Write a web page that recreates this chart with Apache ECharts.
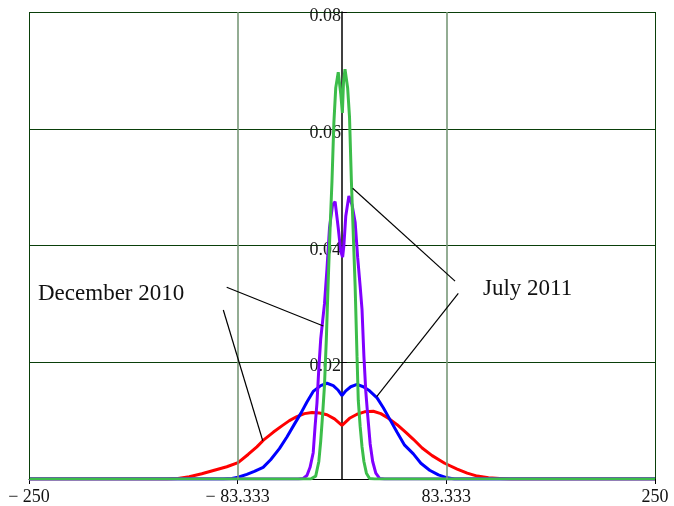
<!DOCTYPE html>
<html>
<head>
<meta charset="utf-8">
<script src="https://cdn.jsdelivr.net/npm/echarts@6/dist/echarts.min.js"></script>
<style>html,body{margin:0;padding:0;background:#fff}#c{width:674px;height:506px}</style>
</head>
<body>
<div id="c"></div>
<script>
// ---- data ----
const xTicks = [-250, -83.333, 83.333, 250];
const xTickLabels = ['\u2212 250', '\u2212 83.333', '83.333', '250'];
const yTicks = [0.02, 0.04, 0.06, 0.08];

const redData = [[-250,0],[-140,0],[-131,0.0001],[-122,0.0004],[-112,0.0009],[-102,0.0015],[-92,0.0021],[-83,0.0028],[-75,0.0042],[-68,0.0055],[-62,0.0068],[-55,0.0080],[-48,0.0091],[-42,0.0100],[-36,0.0107],[-30,0.0112],[-24,0.0114],[-18,0.0113],[-12,0.0110],[-6,0.0103],[0,0.0092],[6,0.0104],[12,0.0111],[18,0.0115],[25,0.0116],[31,0.0112],[37,0.0104],[44,0.0093],[51,0.0080],[57,0.0068],[64,0.0053],[72,0.0040],[82,0.0027],[92,0.0017],[100,0.0010],[108,0.0005],[117,0.0002],[126,0.0001],[135,0],[250,0]];

const blueData = [[-250,0],[-95,0],[-88,0.0001],[-83,0.0003],[-76,0.0008],[-70,0.0013],[-63,0.0020],[-57,0.0033],[-50,0.0052],[-44,0.0072],[-38,0.0094],[-33,0.0112],[-28,0.0132],[-23,0.0150],[-17,0.0160],[-12,0.0164],[-7,0.0160],[-3,0.0152],[0,0.0143],[3,0.0151],[7,0.0158],[12,0.0162],[17,0.0158],[22,0.0151],[28,0.0139],[33,0.0122],[38,0.0103],[44,0.0080],[50,0.0058],[57,0.0043],[63,0.0027],[70,0.0015],[77,0.0007],[84,0.0002],[90,0],[250,0]];

const purpleData = [[-250,0],[-35,0],[-31,0.0001],[-28,0.0006],[-25.5,0.002],[-23,0.0045],[-21.5,0.009],[-20,0.013],[-18.5,0.019],[-17,0.024],[-15.5,0.027],[-14,0.030],[-12,0.036],[-10,0.043],[-7.5,0.047],[-5.5,0.0475],[-3,0.043],[-1,0.039],[0.5,0.038],[1.5,0.040],[3,0.045],[5.5,0.0485],[8,0.047],[10.5,0.044],[12.5,0.038],[14.5,0.033],[16,0.029],[17.5,0.021],[19,0.015],[20.5,0.011],[22.5,0.006],[24.5,0.003],[27,0.001],[30,0.0001],[34,0],[250,0]];

const greenData = [[-250,0],[-25,0],[-21,0.0005],[-18.5,0.003],[-17,0.0065],[-15.5,0.011],[-14,0.016],[-12.5,0.024],[-11,0.034],[-9.5,0.043],[-8,0.051],[-6.5,0.061],[-5,0.067],[-3,0.0697],[-1,0.066],[0.3,0.0627],[1.2,0.068],[2.4,0.0702],[4.5,0.067],[6,0.062],[7.5,0.051],[9,0.042],[10.5,0.033],[12,0.021],[13,0.0135],[14.5,0.009],[16,0.0055],[17.5,0.003],[19.5,0.001],[22,0.0001],[26,0],[250,0]];

// annotation leader lines in data coordinates: [x1, y1, x2, y2]
const leaderLines = [
  [-92.1, 0.03284, -14.9, 0.02621],
  [-94.8, 0.02895, -63.3, 0.00656],
  [8.5, 0.0498, 90.3, 0.0339],
  [92.9, 0.0318, 27.7, 0.0141]
];
const annotationTexts = ['December 2010', 'July 2011'];

// ---- chart ----
const chart = echarts.init(document.getElementById('c'), null, {renderer: 'canvas'});
const serif = 'Liberation Serif';
const gridGreen = '#0a3f0a';
const gridLeft = 29, gridRight = 19;
const plotWidth = 674 - gridLeft - gridRight;

const vLines = xTicks.map((v, i) => ({
  xAxis: v,
  lineStyle: (i === 0 || i === xTicks.length - 1)
    ? {color: gridGreen, width: 1, type: 'solid'}
    : {color: '#789878', width: 1.6, type: 'solid'}
}));
const leaders = leaderLines.map(l => [
  {coord: [l[0], l[1]], lineStyle: {color: '#000', width: 1.2, type: 'solid'}},
  {coord: [l[2], l[3]]}
]);

function lineSeries(name, data, color) {
  return {
    name, type: 'line', data, showSymbol: false, symbol: 'none',
    lineStyle: {color, width: 3}, itemStyle: {color},
    animation: false, silent: true
  };
}

chart.setOption({
  animation: false,
  backgroundColor: '#fff',
  grid: {left: gridLeft, right: gridRight, top: 12, bottom: 27, containLabel: false, outerBoundsMode: 'none'},
  xAxis: {
    type: 'value', min: -250, max: 250,
    axisLine: {show: true, onZero: true, lineStyle: {color: '#000', width: 1}},
    axisTick: {show: true, customValues: xTicks, length: 5, lineStyle: {color: '#000'}},
    axisLabel: {
      show: true, customValues: xTicks, margin: 9,
      fontFamily: serif, fontSize: 18, color: '#111',
      formatter: function (v) {
        let best = 0;
        for (let i = 0; i < xTicks.length; i++) if (Math.abs(xTicks[i] - v) < Math.abs(xTicks[best] - v)) best = i;
        return xTickLabels[best];
      }
    },
    splitLine: {show: false}
  },
  yAxis: {
    type: 'value', min: 0, max: 0.08, interval: 0.02,
    position: 'left', offset: -plotWidth / 2,
    axisLine: {show: true, onZero: false, lineStyle: {color: '#000', width: 1.5}},
    axisTick: {show: true, inside: true, length: 5, lineStyle: {color: '#000'}},
    axisLabel: {
      show: true, margin: 1, verticalAlign: 'top', lineHeight: 9,
      fontFamily: serif, fontSize: 18, color: '#1a1a1a',
      formatter: function (v) {
        for (let i = 0; i < yTicks.length; i++) if (Math.abs(yTicks[i] - v) < 1e-9) return yTicks[i].toFixed(2);
        return '';
      }
    },
    splitLine: {show: true, lineStyle: {color: gridGreen, width: 1}}
  },
  series: [
    {
      name: 'helper', type: 'line', data: [[-250, 0], [250, 0]],
      symbol: 'none', lineStyle: {width: 0, opacity: 0}, silent: true, animation: false,
      markLine: {
        silent: true, animation: false, symbol: ['none', 'none'],
        label: {show: false},
        data: vLines.concat(leaders)
      }
    },
    lineSeries('red', redData, '#ff0000'),
    lineSeries('blue', blueData, '#0000ff'),
    lineSeries('purple', purpleData, '#8000ff'),
    lineSeries('green', greenData, '#3cbd4a')
  ],
  graphic: [
    {type: 'text', x: 38, y: 294, silent: true,
     style: {text: annotationTexts[0], font: '23px "Liberation Serif"', fill: '#111', verticalAlign: 'middle'}},
    {type: 'text', x: 483, y: 289, silent: true,
     style: {text: annotationTexts[1], font: '23px "Liberation Serif"', fill: '#111', verticalAlign: 'middle'}}
  ]
});
</script>
</body>
</html>
